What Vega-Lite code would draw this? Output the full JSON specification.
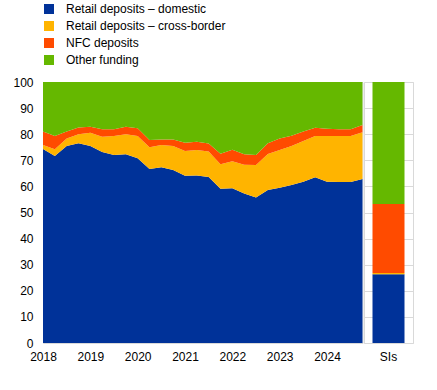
{
  "$schema": "https://vega.github.io/schema/vega-lite/v6.json",
  "padding": {"left": 12, "top": 3, "right": 5, "bottom": 5},
  "background": "white",
  "config": {
    "font": "Liberation Sans",
    "view": {"stroke": "#d9d9d9"},
    "concat": {"spacing": 0},
    "axis": {"labelFont": "Liberation Sans", "labelFontSize": 12, "labelColor": "#000000", "ticks": false, "domain": false, "grid": false, "title": null},
    "legend": {"labelFont": "Liberation Sans", "labelFontSize": 12, "labelColor": "#000000", "symbolType": "square", "symbolSize": 100, "symbolStrokeWidth": 0, "symbolOpacity": 1, "labelOffset": 11, "rowPadding": 5, "title": null}
  },
  "datasets": {
    "ts": [
      {"t":2018.00,"s":"Retail deposits – domestic","v":74.3,"k":1},{"t":2018.00,"s":"Retail deposits – cross-border","v":1.6,"k":2},{"t":2018.00,"s":"NFC deposits","v":5.1,"k":3},{"t":2018.00,"s":"Other funding","v":19.0,"k":4},
      {"t":2018.25,"s":"Retail deposits – domestic","v":71.6,"k":1},{"t":2018.25,"s":"Retail deposits – cross-border","v":2.6,"k":2},{"t":2018.25,"s":"NFC deposits","v":5.1,"k":3},{"t":2018.25,"s":"Other funding","v":20.7,"k":4},
      {"t":2018.50,"s":"Retail deposits – domestic","v":75.5,"k":1},{"t":2018.50,"s":"Retail deposits – cross-border","v":2.9,"k":2},{"t":2018.50,"s":"NFC deposits","v":2.6,"k":3},{"t":2018.50,"s":"Other funding","v":19.0,"k":4},
      {"t":2018.75,"s":"Retail deposits – domestic","v":76.5,"k":1},{"t":2018.75,"s":"Retail deposits – cross-border","v":3.5,"k":2},{"t":2018.75,"s":"NFC deposits","v":2.6,"k":3},{"t":2018.75,"s":"Other funding","v":17.4,"k":4},
      {"t":2019.00,"s":"Retail deposits – domestic","v":75.5,"k":1},{"t":2019.00,"s":"Retail deposits – cross-border","v":5.1,"k":2},{"t":2019.00,"s":"NFC deposits","v":2.3,"k":3},{"t":2019.00,"s":"Other funding","v":17.1,"k":4},
      {"t":2019.25,"s":"Retail deposits – domestic","v":73.2,"k":1},{"t":2019.25,"s":"Retail deposits – cross-border","v":5.8,"k":2},{"t":2019.25,"s":"NFC deposits","v":2.9,"k":3},{"t":2019.25,"s":"Other funding","v":18.1,"k":4},
      {"t":2019.50,"s":"Retail deposits – domestic","v":72.0,"k":1},{"t":2019.50,"s":"Retail deposits – cross-border","v":7.3,"k":2},{"t":2019.50,"s":"NFC deposits","v":2.6,"k":3},{"t":2019.50,"s":"Other funding","v":18.1,"k":4},
      {"t":2019.75,"s":"Retail deposits – domestic","v":72.3,"k":1},{"t":2019.75,"s":"Retail deposits – cross-border","v":7.7,"k":2},{"t":2019.75,"s":"NFC deposits","v":2.9,"k":3},{"t":2019.75,"s":"Other funding","v":17.1,"k":4},
      {"t":2020.00,"s":"Retail deposits – domestic","v":70.8,"k":1},{"t":2020.00,"s":"Retail deposits – cross-border","v":8.5,"k":2},{"t":2020.00,"s":"NFC deposits","v":3.0,"k":3},{"t":2020.00,"s":"Other funding","v":17.7,"k":4},
      {"t":2020.25,"s":"Retail deposits – domestic","v":66.7,"k":1},{"t":2020.25,"s":"Retail deposits – cross-border","v":8.3,"k":2},{"t":2020.25,"s":"NFC deposits","v":2.8,"k":3},{"t":2020.25,"s":"Other funding","v":22.2,"k":4},
      {"t":2020.50,"s":"Retail deposits – domestic","v":67.3,"k":1},{"t":2020.50,"s":"Retail deposits – cross-border","v":8.6,"k":2},{"t":2020.50,"s":"NFC deposits","v":2.1,"k":3},{"t":2020.50,"s":"Other funding","v":22.0,"k":4},
      {"t":2020.75,"s":"Retail deposits – domestic","v":66.3,"k":1},{"t":2020.75,"s":"Retail deposits – cross-border","v":9.2,"k":2},{"t":2020.75,"s":"NFC deposits","v":2.5,"k":3},{"t":2020.75,"s":"Other funding","v":22.0,"k":4},
      {"t":2021.00,"s":"Retail deposits – domestic","v":64.1,"k":1},{"t":2021.00,"s":"Retail deposits – cross-border","v":9.5,"k":2},{"t":2021.00,"s":"NFC deposits","v":3.1,"k":3},{"t":2021.00,"s":"Other funding","v":23.3,"k":4},
      {"t":2021.25,"s":"Retail deposits – domestic","v":64.2,"k":1},{"t":2021.25,"s":"Retail deposits – cross-border","v":9.7,"k":2},{"t":2021.25,"s":"NFC deposits","v":3.2,"k":3},{"t":2021.25,"s":"Other funding","v":22.9,"k":4},
      {"t":2021.50,"s":"Retail deposits – domestic","v":63.6,"k":1},{"t":2021.50,"s":"Retail deposits – cross-border","v":9.8,"k":2},{"t":2021.50,"s":"NFC deposits","v":3.0,"k":3},{"t":2021.50,"s":"Other funding","v":23.6,"k":4},
      {"t":2021.75,"s":"Retail deposits – domestic","v":59.1,"k":1},{"t":2021.75,"s":"Retail deposits – cross-border","v":9.4,"k":2},{"t":2021.75,"s":"NFC deposits","v":4.0,"k":3},{"t":2021.75,"s":"Other funding","v":27.5,"k":4},
      {"t":2022.00,"s":"Retail deposits – domestic","v":59.3,"k":1},{"t":2022.00,"s":"Retail deposits – cross-border","v":10.3,"k":2},{"t":2022.00,"s":"NFC deposits","v":4.4,"k":3},{"t":2022.00,"s":"Other funding","v":26.0,"k":4},
      {"t":2022.25,"s":"Retail deposits – domestic","v":57.3,"k":1},{"t":2022.25,"s":"Retail deposits – cross-border","v":11.0,"k":2},{"t":2022.25,"s":"NFC deposits","v":4.0,"k":3},{"t":2022.25,"s":"Other funding","v":27.7,"k":4},
      {"t":2022.50,"s":"Retail deposits – domestic","v":55.7,"k":1},{"t":2022.50,"s":"Retail deposits – cross-border","v":12.5,"k":2},{"t":2022.50,"s":"NFC deposits","v":3.8,"k":3},{"t":2022.50,"s":"Other funding","v":28.0,"k":4},
      {"t":2022.75,"s":"Retail deposits – domestic","v":58.6,"k":1},{"t":2022.75,"s":"Retail deposits – cross-border","v":13.8,"k":2},{"t":2022.75,"s":"NFC deposits","v":4.1,"k":3},{"t":2022.75,"s":"Other funding","v":23.5,"k":4},
      {"t":2023.00,"s":"Retail deposits – domestic","v":59.5,"k":1},{"t":2023.00,"s":"Retail deposits – cross-border","v":14.4,"k":2},{"t":2023.00,"s":"NFC deposits","v":4.5,"k":3},{"t":2023.00,"s":"Other funding","v":21.6,"k":4},
      {"t":2023.25,"s":"Retail deposits – domestic","v":60.5,"k":1},{"t":2023.25,"s":"Retail deposits – cross-border","v":15.0,"k":2},{"t":2023.25,"s":"NFC deposits","v":3.9,"k":3},{"t":2023.25,"s":"Other funding","v":20.6,"k":4},
      {"t":2023.50,"s":"Retail deposits – domestic","v":61.8,"k":1},{"t":2023.50,"s":"Retail deposits – cross-border","v":15.6,"k":2},{"t":2023.50,"s":"NFC deposits","v":3.6,"k":3},{"t":2023.50,"s":"Other funding","v":19.0,"k":4},
      {"t":2023.75,"s":"Retail deposits – domestic","v":63.5,"k":1},{"t":2023.75,"s":"Retail deposits – cross-border","v":15.8,"k":2},{"t":2023.75,"s":"NFC deposits","v":3.2,"k":3},{"t":2023.75,"s":"Other funding","v":17.5,"k":4},
      {"t":2024.00,"s":"Retail deposits – domestic","v":61.8,"k":1},{"t":2024.00,"s":"Retail deposits – cross-border","v":17.5,"k":2},{"t":2024.00,"s":"NFC deposits","v":2.8,"k":3},{"t":2024.00,"s":"Other funding","v":17.9,"k":4},
      {"t":2024.25,"s":"Retail deposits – domestic","v":61.7,"k":1},{"t":2024.25,"s":"Retail deposits – cross-border","v":17.6,"k":2},{"t":2024.25,"s":"NFC deposits","v":2.6,"k":3},{"t":2024.25,"s":"Other funding","v":18.1,"k":4},
      {"t":2024.50,"s":"Retail deposits – domestic","v":61.7,"k":1},{"t":2024.50,"s":"Retail deposits – cross-border","v":17.6,"k":2},{"t":2024.50,"s":"NFC deposits","v":2.6,"k":3},{"t":2024.50,"s":"Other funding","v":18.1,"k":4},
      {"t":2024.75,"s":"Retail deposits – domestic","v":62.8,"k":1},{"t":2024.75,"s":"Retail deposits – cross-border","v":17.9,"k":2},{"t":2024.75,"s":"NFC deposits","v":2.8,"k":3},{"t":2024.75,"s":"Other funding","v":16.5,"k":4}
    ],
    "si": [
      {"g":"SIs","s":"Retail deposits – domestic","v":26.3,"k":1},
      {"g":"SIs","s":"Retail deposits – cross-border","v":0.5,"k":2},
      {"g":"SIs","s":"NFC deposits","v":26.5,"k":3},
      {"g":"SIs","s":"Other funding","v":46.7,"k":4}
    ]
  },
  "hconcat": [
    {
      "width": 319.5,
      "height": 261,
      "data": {"name": "ts"},
      "mark": {"type": "area", "interpolate": "linear"},
      "encoding": {
        "x": {"field": "t", "type": "quantitative", "scale": {"domain": [2018, 2024.75], "nice": false, "zero": false}, "axis": {"values": [2018, 2019, 2020, 2021, 2022, 2023, 2024], "format": "d", "labelPadding": 8, "labelFlush": false, "labelOverlap": false}},
        "y": {"field": "v", "type": "quantitative", "stack": "zero", "scale": {"domain": [0, 100], "nice": false}, "axis": {"values": [0, 10, 20, 30, 40, 50, 60, 70, 80, 90, 100], "labelPadding": 10}},
        "color": {"field": "s", "type": "nominal", "scale": {"domain": ["Retail deposits – domestic", "Retail deposits – cross-border", "NFC deposits", "Other funding"], "range": ["#003299", "#FFB400", "#FF4B00", "#65B800"]}, "legend": {"orient": "top", "direction": "vertical", "offset": 9}},
        "order": {"field": "k", "type": "quantitative"}
      }
    },
    {
      "width": 49,
      "height": 261,
      "data": {"name": "si"},
      "mark": {"type": "bar", "width": 32},
      "encoding": {
        "x": {"field": "g", "type": "nominal", "axis": {"labelAngle": 0, "labelPadding": 8}},
        "y": {"field": "v", "type": "quantitative", "stack": "zero", "scale": {"domain": [0, 100], "nice": false}, "axis": {"values": [0, 10, 20, 30, 40, 50, 60, 70, 80, 90, 100], "labels": false, "grid": true, "gridColor": "#d9d9d9"}},
        "color": {"field": "s", "type": "nominal", "scale": {"domain": ["Retail deposits – domestic", "Retail deposits – cross-border", "NFC deposits", "Other funding"], "range": ["#003299", "#FFB400", "#FF4B00", "#65B800"]}},
        "order": {"field": "k", "type": "quantitative"}
      }
    }
  ]
}
